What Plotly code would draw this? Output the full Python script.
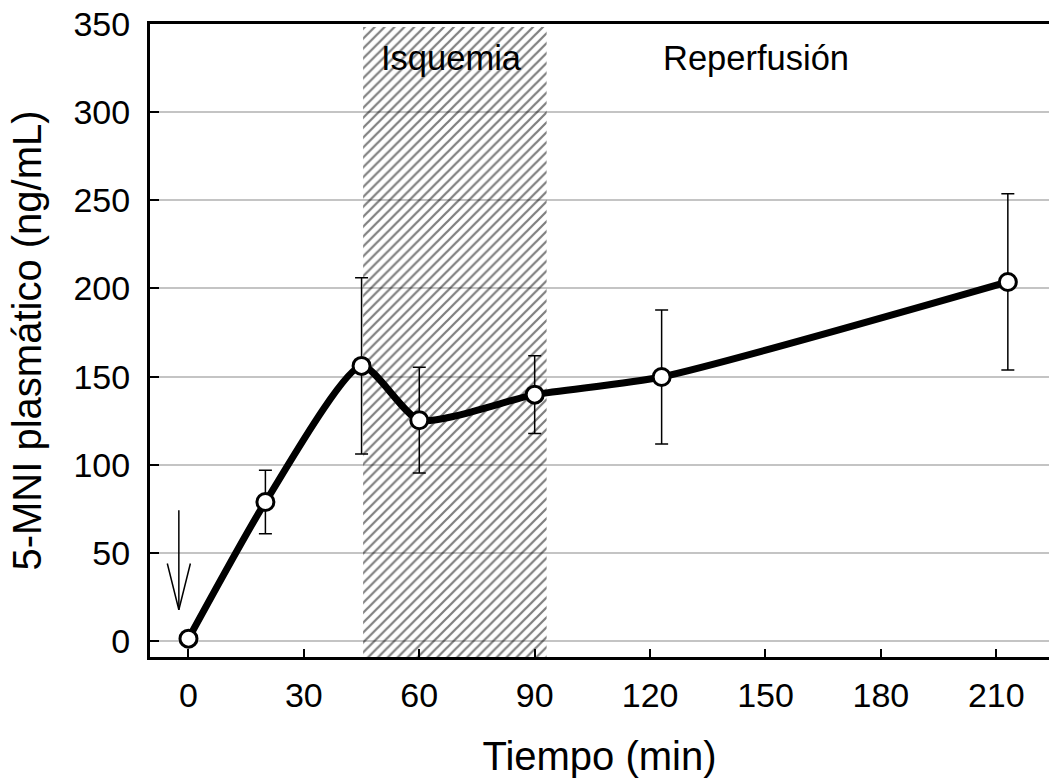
import plotly.graph_objects as go

# Plasma 5-MNI over time (mean ± SD)
tiempo = [0, 20, 45, 60, 90, 123, 213]
mni = [1.4, 78.9, 156.1, 125.3, 139.8, 149.8, 203.7]
mni_sd = [0, 18, 50, 30, 22, 38, 50]

x_ticks = [0, 30, 60, 90, 120, 150, 180, 210]
y_ticks = [0, 50, 100, 150, 200, 250, 300, 350]

# Ischemia window (min) and its vertical extent
isq_inicio, isq_fin = 45.4, 93.1
isq_y = [-9, 348.3]

# Injection arrow (min, ng/mL)
flecha_x = -2.5
flecha_y = [74.2, 17.8]
flecha_base, flecha_ancho = 44.0, 3.0

X_RANGE = [-10, 223.7]
Y_RANGE = [-9, 350]
FONT = "Arial, Liberation Sans, sans-serif"

fig = go.Figure()

# hatched ischemia band
fig.add_trace(go.Scatter(
    x=[isq_inicio, isq_fin, isq_fin, isq_inicio, isq_inicio],
    y=[isq_y[0], isq_y[0], isq_y[1], isq_y[1], isq_y[0]],
    mode="lines", fill="toself",
    fillcolor="rgba(0,0,0,0)",
    fillpattern=dict(shape="/", size=7, solidity=0.32,
                     fgcolor="black", bgcolor="rgba(0,0,0,0)"),
    line=dict(width=0, color="rgba(0,0,0,0)"),
    hoverinfo="skip", showlegend=False,
))

# mean curve
fig.add_trace(go.Scatter(
    x=tiempo, y=mni, mode="lines",
    line=dict(color="black", width=7, shape="spline", smoothing=0.6),
    showlegend=False,
))

# points with SD bars
fig.add_trace(go.Scatter(
    x=tiempo, y=mni, mode="markers",
    marker=dict(symbol="circle", size=17, color="white",
                line=dict(color="black", width=3)),
    error_y=dict(type="data", array=mni_sd, visible=True,
                 color="black", thickness=1.5, width=6.5),
    showlegend=False,
))

# arrow marking the injection
fig.add_shape(type="line", x0=flecha_x, x1=flecha_x,
              y0=flecha_y[0], y1=flecha_y[1],
              line=dict(color="black", width=1.5))
fig.add_shape(type="path",
              path=(f"M {flecha_x - flecha_ancho},{flecha_base} "
                    f"L {flecha_x},{flecha_y[1]} "
                    f"L {flecha_x + flecha_ancho},{flecha_base}"),
              line=dict(color="black", width=1.5))

fig.add_annotation(x=(isq_inicio + isq_fin) / 2 - 1, y=331, text="Isquemia",
                   showarrow=False, font=dict(family=FONT, size=34.5, color="black"))
fig.add_annotation(x=147.5, y=331, text="Reperfusión",
                   showarrow=False, font=dict(family=FONT, size=34.5, color="black"))

fig.update_layout(
    width=1049, height=782,
    margin=dict(l=150, r=0, t=24, b=125),
    paper_bgcolor="white", plot_bgcolor="white",
    font=dict(family=FONT, color="black"),
    xaxis=dict(
        range=X_RANGE, tickvals=x_ticks, ticktext=[str(v) for v in x_ticks],
        showgrid=False, zeroline=False,
        showline=True, linecolor="black", linewidth=3, mirror=True,
        ticks="inside", ticklen=8, tickwidth=1.5, tickcolor="black",
        tickfont=dict(size=34), ticklabelstandoff=6,
        title=dict(text="Tiempo (min)", font=dict(size=40), standoff=30),
    ),
    yaxis=dict(
        range=Y_RANGE, tickvals=y_ticks, ticktext=[str(v) for v in y_ticks],
        showgrid=True, gridcolor="#c4c4c4", gridwidth=1.5, zeroline=False,
        showline=True, linecolor="black", linewidth=3,
        ticks="inside", ticklen=9, tickwidth=1.5, tickcolor="black",
        tickfont=dict(size=34), ticklabelstandoff=10,
        title=dict(text="5-MNI plasmático (ng/mL)", font=dict(size=40), standoff=20),
    ),
)

fig.write_html("out.html")
